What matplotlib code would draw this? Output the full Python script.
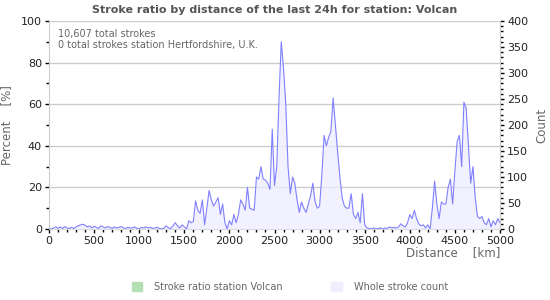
import numpy as np
import matplotlib.pyplot as plt
from matplotlib.patches import Patch

# distance bins (km) and whole stroke count per bin (right axis)
distance = np.arange(0, 5001, 25)
count_pct = [
    0, 0, 0.5, 1, 0.3, 1, 0.2, 1.2, 0.5, 0.3,
    0.8, 0.3, 1, 1.5, 2, 2.3, 1.8, 1, 1.5, 0.5,
    1.3, 0.8, 0.3, 1.5, 1, 0.5, 1.2, 0.8, 0.3, 1,
    0.5, 0.8, 1.2, 0.5, 0.3, 0.8, 0.5, 0.5, 1, 0.3,
    0, 0.8, 0.5, 1, 0.5, 0.8, 0.3, 0.5, 0.8, 0.3,
    0, 0.5, 1.5, 0.5, 0.3, 1.5, 3, 1.5, 0.5, 2,
    1, 0, 4, 3, 3.5, 13.5, 9, 7.5, 14, 2,
    10, 18.5, 14, 11, 13, 15, 7, 12, 3, 0,
    4, 2, 7, 3, 7, 14, 12, 9, 20, 10,
    9.5, 9, 25, 24, 30, 24, 23.5, 22, 19, 48,
    21, 30, 63, 90, 77, 60, 30, 17, 25, 22,
    14, 8, 13, 10, 8, 12, 16, 22, 13, 10,
    11, 26, 45, 40, 44, 47, 63, 50, 37, 25,
    15, 11, 10, 10, 17, 7, 5, 8, 3, 17,
    2, 0.5, 0.3, 0, 0.5, 0, 0.3, 0.5, 0, 0.5,
    0.3, 1, 0.5, 0.8, 0.5, 1, 2.5, 1.5, 1, 3,
    7, 5, 9, 5, 2.5, 1.5, 2, 0.5, 2, 0,
    10, 23, 12, 5, 13, 12, 12, 20, 24, 12,
    28, 42, 45, 30, 61, 58, 40, 22, 30, 15,
    6, 5, 6, 3, 2, 5, 1, 4, 2, 5,
    3,
]
stroke_count = np.array(count_pct) * 4  # count axis is 4x

title = "Stroke ratio by distance of the last 24h for station: Volcan"
info = "10,607 total strokes\n0 total strokes station Hertfordshire, U.K."

grey = "#666666"
line_col = "#8080ff"
fill_col = "#eeeeff"
ratio_col = "#b3e0b3"

fig = plt.figure(figsize=(5.5, 3), dpi=100)
ax = fig.add_axes([49 / 550, 1 - 229 / 300, 451 / 550, 208 / 300])
ax2 = ax.twinx()

ax.set_xlim(0, 5000)
ax.set_ylim(0, 100)
ax2.set_ylim(0, 400)

ax2.fill_between(distance, stroke_count, color=fill_col, alpha=0.8, lw=0)
ax2.plot(distance, stroke_count, color=line_col, lw=0.8)

ax.set_yticks(np.arange(0, 101, 20))
ax.set_yticks(np.arange(0, 101, 10), minor=True)
ax.set_xticks(np.arange(0, 5001, 500))
ax.set_xticks(np.arange(0, 5001, 100), minor=True)
ax2.set_yticks(np.arange(0, 401, 50))
ax2.set_yticks(np.arange(0, 401, 10), minor=True)

ax.grid(axis="y", color="#cccccc", lw=1)
ax.set_axisbelow(True)

for a in (ax, ax2):
    for s in a.spines.values():
        s.set_visible(False)
    a.tick_params(labelsize=8, labelcolor="#222222", color="black",
                  length=3, width=1, pad=2)
    a.tick_params(which="minor", length=2, width=1, color="black")
ax.spines["left"].set_visible(True)
ax.spines["left"].set_color("#cccccc")
ax.spines["bottom"].set_visible(True)
ax.spines["bottom"].set_color("#cccccc")
ax2.spines["right"].set_visible(True)
ax2.spines["right"].set_color("#cccccc")

ax.set_ylabel("Percent    [%]", color=grey, fontsize=8.5, labelpad=6)
ax2.set_ylabel("Count", color=grey, fontsize=8.5, labelpad=5)
ax.set_xlabel("Distance    [km]", color=grey, fontsize=8.5, loc="right", labelpad=0)

ax.set_title(title, fontsize=8, fontweight="bold", color="#555555", pad=6)
ax.text(0.02, 0.96, info, transform=ax.transAxes, fontsize=7, color=grey,
        va="top", ha="left", linespacing=1.1)

handles = [Patch(color=ratio_col), Patch(color=fill_col)]
fig.legend(handles, ["Stroke ratio station Volcan", "Whole stroke count"],
           loc="center", bbox_to_anchor=(0.527, 0.043), ncol=2, frameon=False,
           fontsize=7, labelcolor=grey, handlelength=1.1, handleheight=1.1,
           columnspacing=5, handletextpad=1.2)

fig.savefig("out.png", dpi=100)
